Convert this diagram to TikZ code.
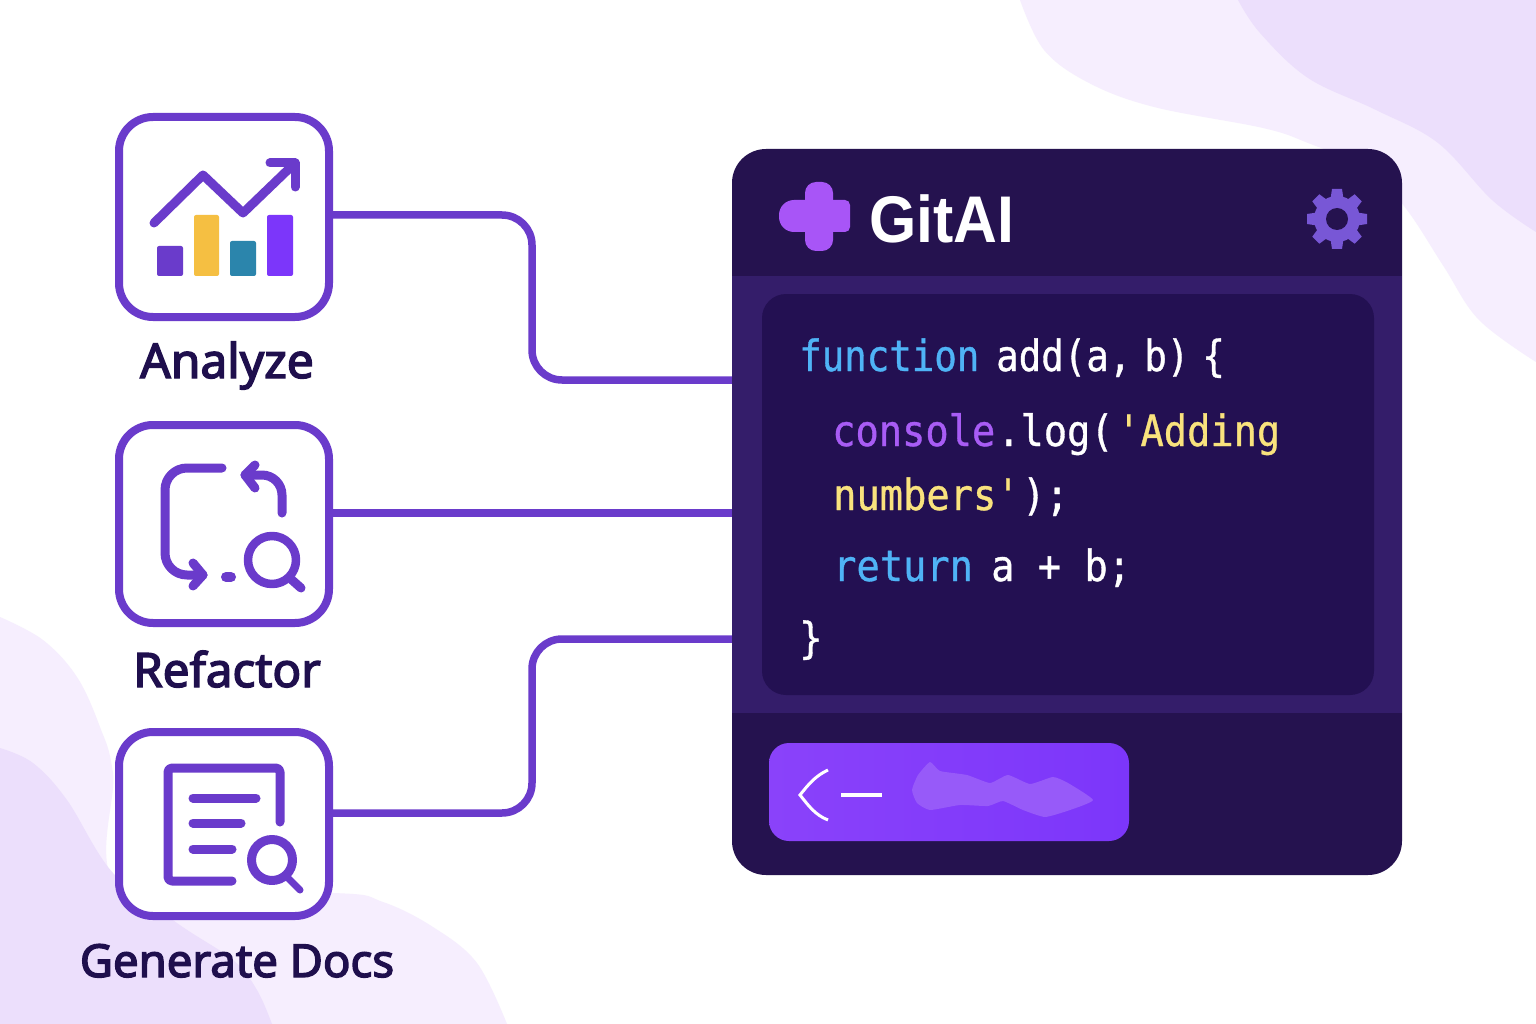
\documentclass[tikz,border=0pt]{standalone}
\usepackage{fontspec}
\setmainfont{Noto Sans}
\newfontfamily\capfont[FakeBold=3]{Noto Sans}
\newfontfamily\codefont[FakeStretch=0.9,FakeBold=0.8]{DejaVu Sans Mono}
\newfontfamily\codenarrow[FakeStretch=0.87,FakeBold=0.8]{DejaVu Sans Mono}
\newfontfamily\logofont[FakeStretch=0.92]{Liberation Sans}
\usepackage{xcolor}
\usepackage{tikz}
\definecolor{linepurple}{HTML}{6A3BCB}
\definecolor{inkdark}{HTML}{1F0F4D}
\definecolor{panelbg}{HTML}{25124F}
\definecolor{bandbg}{HTML}{341D6A}
\definecolor{codebg}{HTML}{231052}
\definecolor{btnbg}{HTML}{7C36FA}
\definecolor{btnsoft}{HTML}{8A42FA}
\definecolor{blobbg}{HTML}{975AF9}
\definecolor{logopurple}{HTML}{A855F7}
\definecolor{gearpurple}{HTML}{7857D6}
\definecolor{kwblue}{HTML}{4FB3F6}
\definecolor{kwpurple}{HTML}{A85CF5}
\definecolor{stryellow}{HTML}{F9E27D}
\definecolor{softa}{HTML}{F6EEFE}
\definecolor{softb}{HTML}{ECDFFC}
\definecolor{baryellow}{HTML}{F5BF42}
\definecolor{barteal}{HTML}{2B85AC}
\tikzset{
  iconbox/.style={draw=linepurple, line width=8pt, fill=white, rounded corners=34pt, minimum width=210pt, inner sep=0pt},
  iconline/.style={draw=linepurple, line width=9pt, line cap=round, line join=round},
  wire/.style={draw=linepurple, line width=7.5pt, rounded corners=30pt},
  caption/.style={text=inkdark, anchor=base, inner sep=0pt, font=\capfont\fontsize{47.5}{50}\selectfont},
  code/.style={anchor=base west, inner sep=0pt, text=white, font=\codefont\fontsize{43}{48}\selectfont},
}
\begin{document}
\begin{tikzpicture}[x=1pt, y=-1pt]
  \useasboundingbox (0,0) rectangle (1536,1024);
  \fill[white] (0,0) rectangle (1536,1024);
  % background shapes
  \fill[softa] plot[smooth, tension=0.6] coordinates {(1020,0) (1044,50) (1089,83) (1154,107) (1263,128) (1308,143) (1370,170) (1407,210) (1444,267) (1479,320) (1536,362)} -- (1536,0) -- cycle;
  \fill[softb] plot[smooth, tension=0.6] coordinates {(1238,0) (1260,33) (1308,78) (1376,110) (1438,143) (1492,200) (1536,232)} -- (1536,0) -- cycle;
  \fill[softa] plot[smooth, tension=0.6] coordinates {(0,617) (43,640) (77,677) (100,727) (113,773) (125,893) (333,893) (383,902) (433,927) (477,963) (507,1024)} -- (0,1024) -- cycle;
  \fill[softb] plot[smooth, tension=0.6] coordinates {(0,748) (33,763) (67,800) (113,873) (177,923) (233,960) (257,990) (272,1024)} -- (0,1024) -- cycle;

  % connector ends
  \coordinate (portA) at (732,380);
  \coordinate (portB) at (732,513);
  \coordinate (portC) at (732,639);
  \coordinate (outA) at (331,215);
  \coordinate (outB) at (331,513);
  \coordinate (outC) at (331,813);
  \draw[wire] (outA) -- (532,215) -- (532,380) -- (portA);
  \draw[wire] (outB) -- (portB);
  \draw[wire] (outC) -- (532,813) -- (532,639) -- (portC);

  % icon boxes
  \node[iconbox, minimum height=200pt] (analyze) at (224,217) {};
  \node[iconbox, minimum height=198pt] (refactor) at (224,524) {};
  \node[iconbox, minimum height=184pt] (docs) at (224,824) {};
  \node[caption, font=\capfont\fontsize{48}{50}\selectfont] (analyzelabel) at (227,378) {Analyze};
  \node[caption] (refactorlabel) at (227,687) {Refactor};
  \node[caption, font=\capfont\fontsize{45.5}{50}\selectfont] (docslabel) at (237,977) {Generate Docs};

  % chart icon
  \draw[iconline] (154,223) -- (203,175) -- (243,213) -- (295,163);
  \draw[iconline] (270,163) -- (295,163) -- (295,187);
  \fill[linepurple, rounded corners=2pt] (157,246) rectangle (183,276);
  \fill[baryellow, rounded corners=2pt] (194,215) rectangle (219,276);
  \fill[barteal, rounded corners=2pt] (230,241) rectangle (256,276);
  \fill[btnbg, rounded corners=2pt] (267,215) rectangle (293,276);

  % refactor icon
  \draw[iconline, rounded corners=22pt] (222,468) -- (165,468) -- (165,575) -- (203,575);
  \draw[iconline] (193,563) -- (203,575) -- (193,586);
  \draw[iconline, rounded corners=20pt] (282,513) -- (282,475) -- (245,475);
  \draw[iconline] (255,465) -- (245,475) -- (255,488);
  \draw[iconline, line width=10pt] (226,577) -- (231,577);
  \draw[iconline, line width=8.5pt] (272,560) circle[radius=24pt];
  \draw[iconline] (292,580) -- (301,588);

  % docs icon
  \draw[iconline, rounded corners=4pt] (280,822) -- (280,768) -- (168,768) -- (168,881) -- (232,881);
  \draw[iconline] (193,798) -- (256,798);
  \draw[iconline] (193,823) -- (241,823);
  \draw[iconline] (193,849) -- (232,849);
  \draw[iconline] (272,860) circle[radius=20.5pt];
  \draw[iconline, line width=7pt] (287,877) -- (300,890);

  % app panel
  \node[fill=panelbg, rounded corners=34pt, minimum width=670pt, minimum height=726pt, inner sep=0pt] (panel) at (1067,512) {};
  \fill[bandbg] (732,276) rectangle (1402,713);
  \node[fill=codebg, rounded corners=24pt, minimum width=612pt, minimum height=401pt, inner sep=0pt] (codebox) at (1068,494.5) {};
  \node[left color=btnsoft, right color=btnbg, rounded corners=20pt, minimum width=360pt, minimum height=98pt, inner sep=0pt] (button) at (949,792) {};

  % header
  \fill[logopurple, rounded corners=11pt] (805,182) rectangle (833,251);
  \fill[logopurple, rounded corners=15pt] (779,200) rectangle (825,232);
  \fill[logopurple, rounded corners=5pt] (815,200) rectangle (850,232);
  \node[anchor=base west, inner sep=0pt, text=white, font=\logofont\fontsize{66}{70}\selectfont] (title) at (869,243) {\textbf{GitAI}};
  \foreach \a in {0,45,...,315}
    \fill[gearpurple, shift={(1337,219)}, rotate=\a] (-6.5,-20) -- (-5,-30) -- (5,-30) -- (6.5,-20) -- cycle;
  \fill[gearpurple] (1337,219) circle[radius=23pt];
  \fill[panelbg] (1337,219) circle[radius=11pt];

  % code lines
  \node[code, font=\codenarrow\fontsize{43}{48}\selectfont, text=kwblue] (kwfunction) at (799,371) {function};
  \node[code, font=\codenarrow\fontsize{43}{48}\selectfont] (signature) at (996,371) {\spaceskip=13pt add(a, b) \{};
  \node[code, text=kwpurple] (kwconsole) at (832,446) {console};
  \node[code] (logcall) at (997,446) {.log(};
  \node[code, text=stryellow] (strfirst) at (1117,446) {'Adding};
  \node[code, text=stryellow] (strsecond) at (833,510) {numbers'};
  \node[code] (closecall) at (1022,510) {);};
  \node[code, text=kwblue] (kwreturn) at (833,581) {return};
  \node[code] (sum) at (991,581) {a + b;};
  \node[code] (closing) at (799,653) {\}};

  % button content
  \draw[white, line width=3pt] (828,770) .. controls (815,776) and (808,785) .. (800,795) .. controls (808,805) and (815,815) .. (828,820);
  \draw[white, line width=4pt] (841,795) -- (882,795);
  \fill[blobbg] plot[smooth cycle, tension=0.3] coordinates {(912,790) (918,775) (930,762) (940,771) (967,775) (990,783) (1008,775) (1030,784) (1053,777) (1068,783) (1093,800) (1070,810) (1045,817) (1023,810) (1003,801) (988,806) (960,805) (930,810) (917,803)};
\end{tikzpicture}
\end{document}
